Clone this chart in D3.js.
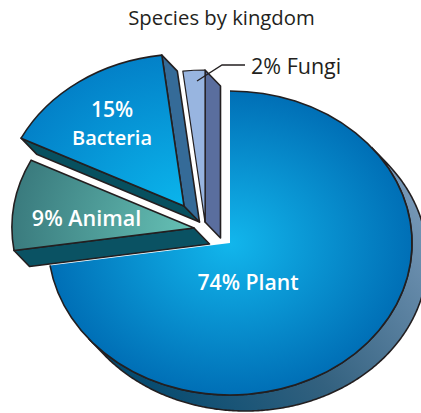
<!DOCTYPE html>
<html>
<head>
<meta charset="utf-8">
<script src="https://cdn.jsdelivr.net/npm/d3@7"></script>
<style>
  html, body { margin: 0; padding: 0; background: #fff; overflow: hidden; }
  svg { display: block; font-family: "Open Sans", sans-serif; }
</style>
</head>
<body>
<svg id="chart" width="421" height="413"></svg>
<script>
const kingdoms = ["Plant", "Animal", "Bacteria", "Fungi"];
const percents = [74, 9, 15, 2];
// the artwork is not drawn quite to scale, so slices use the sweep measured off the picture (degrees)
const sweeps = [261.5, 35, 56.5, 7];

const svg = d3.select("#chart");
const defs = svg.append("defs");

const cx = 230, cy = 243;
const rx = 182, ry = 152;
const depth = [15.5, 16];
const ink = "#231f20";

// how far each slice is pulled out of the centre
const offsets = { Plant: [0, 0], Animal: [-36, -15], Bacteria: [-46, -37], Fungi: [-25, -21] };
const faceFill = { Plant: "url(#plantFace)", Animal: "url(#animalFace)", Bacteria: "url(#bacteriaFace)", Fungi: "#98b5e0" };

function radial(id, inner, outer) {
  const g = defs.append("radialGradient").attr("id", id)
    .attr("gradientUnits", "userSpaceOnUse")
    .attr("cx", 0).attr("cy", 0).attr("r", rx);
  g.append("stop").attr("offset", "0%").attr("stop-color", inner);
  g.append("stop").attr("offset", "100%").attr("stop-color", outer);
}
radial("plantFace", "#12b6ec", "#006fb6");
radial("bacteriaFace", "#0bb5ec", "#0381c8");
radial("animalFace", "#66c2b6", "#3a7b7e");

const rimGrad = defs.append("linearGradient").attr("id", "plantRim")
  .attr("gradientUnits", "userSpaceOnUse")
  .attr("x1", 420).attr("y1", 170).attr("x2", 120).attr("y2", 390);
rimGrad.append("stop").attr("offset", "0%").attr("stop-color", "#7d9dbd");
rimGrad.append("stop").attr("offset", "55%").attr("stop-color", "#33617f");
rimGrad.append("stop").attr("offset", "100%").attr("stop-color", "#00486e");

const pie = d3.pie().value(d => d.sweep).sort(null)
  .startAngle(0).endAngle(2 * Math.PI);
const arc = d3.arc().innerRadius(0).outerRadius(rx);
const slices = pie(kingdoms.map((k, i) => ({ kingdom: k, percent: percents[i], sweep: sweeps[i] })));
const byName = {};
slices.forEach(s => { byName[s.data.kingdom] = s; });

const squash = ry / rx;
const line = d3.line();

// point on the face of a slice, at a pie angle and a fraction of the radius
function pt(name, a, t) {
  const o = offsets[name];
  return [cx + o[0] + t * rx * Math.sin(a), cy + o[1] - t * ry * Math.cos(a)];
}
const drop = p => [p[0] + depth[0], p[1] + depth[1]];

function edgeFace(name, a, fill) {
  const outer = pt(name, a, 1), apex = pt(name, a, 0);
  svg.append("path")
    .attr("d", line([outer, drop(outer), drop(apex), apex]) + "Z")
    .attr("fill", fill)
    .attr("stroke", ink)
    .attr("stroke-width", 1.6)
    .attr("stroke-linejoin", "round");
}

function face(name, stroke, width) {
  const s = byName[name], o = offsets[name];
  svg.append("g")
    .attr("transform", `translate(${cx + o[0]},${cy + o[1]}) scale(1,${squash})`)
    .append("path")
    .attr("d", arc(s))
    .attr("fill", faceFill[name])
    .attr("stroke", stroke)
    .attr("stroke-width", width)
    .attr("stroke-linejoin", "round")
    .attr("vector-effect", "non-scaling-stroke");
}

// plant rim: the stretch of the outer edge that faces the viewer
const plant = byName.Plant;
const tangent = Math.atan2(rx * depth[1], ry * depth[0]);
const rimAngles = d3.range(tangent, Math.min(tangent + Math.PI, plant.endAngle), 0.01);
const rimFront = rimAngles.map(a => pt("Plant", a, 1));
const rimBack = rimFront.map(drop).reverse();
svg.append("path")
  .attr("d", line(rimFront.concat(rimBack)) + "Z")
  .attr("fill", "url(#plantRim)")
  .attr("stroke", ink)
  .attr("stroke-width", 1.6);

face("Plant", "none", 0);
// only the curved edge of the plant face is outlined
svg.append("g")
  .attr("transform", `translate(${cx},${cy}) scale(1,${squash})`)
  .append("path")
  .attr("d", d3.arc().innerRadius(rx).outerRadius(rx)(plant))
  .attr("fill", "none")
  .attr("stroke", ink)
  .attr("stroke-width", 1.6)
  .attr("vector-effect", "non-scaling-stroke");

edgeFace("Animal", byName.Animal.startAngle, "#0a5263");
face("Animal", ink, 1.6);

edgeFace("Bacteria", byName.Bacteria.startAngle, "#07505f");
edgeFace("Bacteria", byName.Bacteria.endAngle, "#356b98");
face("Bacteria", ink, 1.6);

edgeFace("Fungi", byName.Fungi.endAngle, "#5a6e9e");
face("Fungi", ink, 1.2);

// leader for the fungi label
svg.append("path")
  .attr("d", "M197,81L222,65H245")
  .attr("fill", "none")
  .attr("stroke", ink)
  .attr("stroke-width", 1.3);

function label(x, y, str, size, weight, fill, anchor) {
  svg.append("text")
    .attr("x", x).attr("y", y)
    .attr("text-anchor", anchor || "middle")
    .attr("font-size", size)
    .attr("font-weight", weight)
    .attr("fill", fill)
    .text(str);
}

label(221.5, 25, "Species by kingdom", 20.3, 400, ink);
label(251, 74, `${percents[3]}% ${kingdoms[3]}`, 21.5, 400, ink, "start");
label(112, 117, `${percents[2]}%`, 21, 600, "#fff");
label(112, 145, kingdoms[2], 20, 600, "#fff");
label(86.5, 226, `${percents[1]}% ${kingdoms[1]}`, 21.5, 600, "#fff");
label(248, 290, `${percents[0]}% ${kingdoms[0]}`, 21.2, 600, "#fff");
</script>
</body>
</html>
